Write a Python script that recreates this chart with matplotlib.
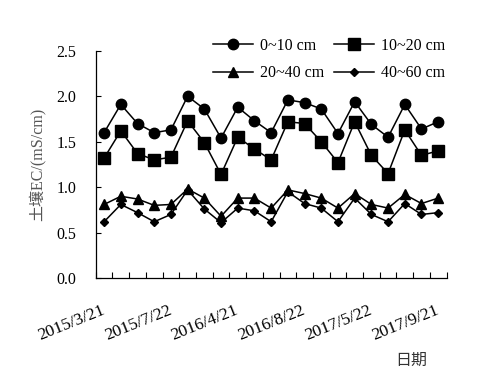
import matplotlib.pyplot as plt
import matplotlib.transforms as mtransforms
import numpy as np

# Sampling dates (only every 4th one is labelled on the axis)
dates = ["2015/3/21", "", "", "", "2015/7/22", "", "", "", "2016/4/21", "", "", "",
         "2016/8/22", "", "", "", "2017/5/22", "", "", "", "2017/9/21"]

ec_0_10 = [1.60, 1.91, 1.70, 1.60, 1.63, 2.00, 1.86, 1.54, 1.88, 1.73, 1.60,
           1.96, 1.93, 1.86, 1.59, 1.94, 1.69, 1.55, 1.91, 1.64, 1.72]
ec_10_20 = [1.32, 1.62, 1.37, 1.30, 1.33, 1.73, 1.49, 1.14, 1.55, 1.42, 1.30,
            1.72, 1.70, 1.50, 1.27, 1.72, 1.35, 1.15, 1.63, 1.35, 1.40]
ec_20_40 = [0.81, 0.90, 0.87, 0.80, 0.81, 0.98, 0.88, 0.68, 0.88, 0.88, 0.77,
            0.97, 0.93, 0.88, 0.77, 0.93, 0.81, 0.77, 0.92, 0.82, 0.88]
ec_40_60 = [0.62, 0.81, 0.72, 0.62, 0.70, 0.97, 0.76, 0.61, 0.77, 0.74, 0.62,
            0.95, 0.82, 0.77, 0.62, 0.88, 0.70, 0.62, 0.82, 0.70, 0.72]

series = [
    (ec_0_10, "0~10 cm", "o", 7.5),
    (ec_10_20, "10~20 cm", "s", 8.5),
    (ec_20_40, "20~40 cm", "^", 6.5),
    (ec_40_60, "40~60 cm", "D", 4.5),
]

plt.rcParams['font.family'] = ['Liberation Serif', 'Noto Sans CJK SC']
plt.rcParams['font.size'] = 11.5

fig = plt.figure(figsize=(5.04, 3.82), dpi=100)
ax = fig.add_axes([0.190, 0.272, 0.696, 0.595])

x = np.arange(len(dates))
handles = []
for vals, label, marker, ms in series:
    h, = ax.plot(x, vals, color='black', lw=1.1, marker=marker, markersize=ms, label=label)
    handles.append(h)

ax.set_xlim(-0.5, len(dates) - 0.5)
ax.set_ylim(0, 2.5)
yt = np.arange(0, 2.51, 0.5)
ax.set_yticks(yt)
ax.set_yticklabels([f"{v:.1f}" for v in yt])
ax.tick_params(axis='y', direction='in', length=3.5, width=0.8, pad=14, labelsize=11.5)

# labels at category centres, tick marks at category boundaries
lab_pos = [i for i, d in enumerate(dates) if d]
ax.set_xticks(lab_pos)
ax.set_xticklabels([dates[i] for i in lab_pos], rotation=22, ha='right',
                   va='center', rotation_mode='anchor', fontsize=12.5)
shift = mtransforms.ScaledTranslation(-5 / 100, 0, fig.dpi_scale_trans)
for t in ax.get_xticklabels():
    t.set_transform(t.get_transform() + shift)
ax.set_xticks(np.arange(-0.5, len(dates), 1), minor=True)
ax.tick_params(axis='x', which='major', length=0, pad=23)
ax.tick_params(axis='x', which='minor', direction='in', length=4.5, width=0.8)

for s in ['top', 'right']:
    ax.spines[s].set_visible(False)
for s in ['left', 'bottom']:
    ax.spines[s].set_linewidth(0.9)

ax.set_ylabel("土壤EC/(mS/cm)", fontsize=11.5, color='#555555', va='center')
ax.yaxis.set_label_coords(-0.167, 0.5)
fig.text(0.8165, 0.0563, "日期", fontsize=11.5, color='#333333', ha='center', va='center')

# row-wise legend order: 0~10, 10~20 / 20~40, 40~60
order = [0, 2, 1, 3]
ax.legend([handles[i] for i in order], [series[i][1] for i in order],
          loc='upper left', bbox_to_anchor=(0.334, 1.056), ncol=2, frameon=False,
          handlelength=2.5, handletextpad=0.45, columnspacing=0.6,
          labelspacing=0.7, borderpad=0, borderaxespad=0, fontsize=11.5)

fig.savefig("out.png", dpi=100)
